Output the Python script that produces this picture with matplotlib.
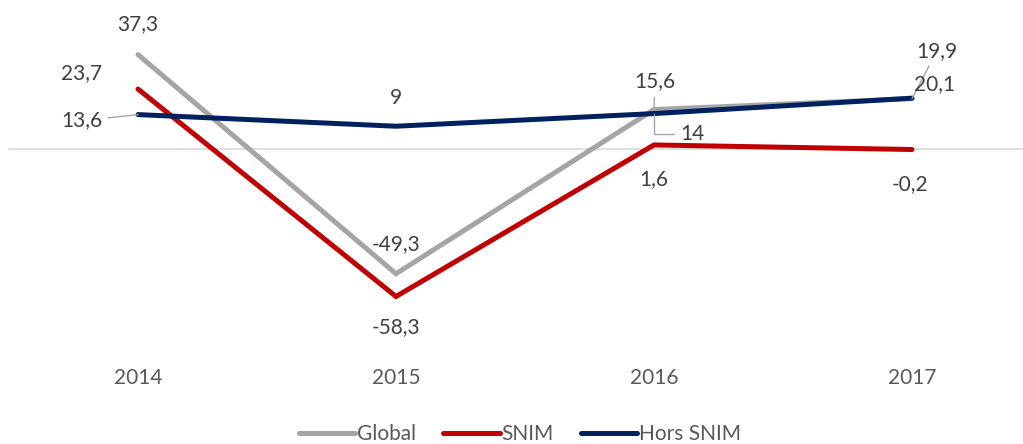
import matplotlib
matplotlib.use("Agg")
import matplotlib.pyplot as plt

years = ["2014", "2015", "2016", "2017"]
global_vals = [37.3, -49.3, 15.6, 19.9]
snim_vals = [23.7, -58.3, 1.6, -0.2]
hors_vals = [13.6, 9, 14, 20.1]

plt.rcParams['font.family'] = ['Lato', 'DejaVu Sans']

fig = plt.figure(figsize=(10.23, 4.44), dpi=100)
ax = fig.add_axes([0, 84 / 444, 1, 360 / 444])
ax.set_xlim(-138 / 258, 885 / 258)
ax.set_ylim((149 - 360) / 2.53, 149 / 2.53)
for s in ax.spines.values():
    s.set_visible(False)
ax.set_yticks([])
x = list(range(len(years)))
ax.set_xticks(x, years)
ax.tick_params(axis='x', length=0, pad=6, labelsize=15, labelcolor='#595959')

ax.plot([-0.5, 3.5], [0, 0], color='#D9D9D9', lw=1.2, zorder=1)

series = [("Global", global_vals, '#A5A5A5'),
          ("SNIM", snim_vals, '#C00000'),
          ("Hors SNIM", hors_vals, '#002060')]
for name, vals, col in series:
    ax.plot(x, vals, color=col, lw=3.6, label=name, solid_capstyle='round',
            solid_joinstyle='miter', zorder=2)

def fmt(v):
    return ("%g" % v).replace('.', ',')

# offsets in pixels (dx, dy), leader line flag
offsets = {
    "Global": [(0, 31, None), (0, 30, None), (1, 28, 'line'), (25, 48, 'line')],
    "SNIM": [(-56, 16, None), (0, -31, None), (0, -34, None), (-2, -35, None)],
    "Hors SNIM": [(-56, -6, 'line'), (0, 28, None), (38, -20, 'elbow'), (23, 14, None)],
}
for name, vals, col in series:
    for i, v in enumerate(vals):
        dx, dy, lead = offsets[name][i]
        kw = {}
        if lead == 'line':
            kw['arrowprops'] = dict(arrowstyle='-', color='#A6A6A6', lw=1,
                                    shrinkA=2, shrinkB=0)
        elif lead == 'elbow':
            kw['arrowprops'] = dict(arrowstyle='-', color='#A6A6A6', lw=1,
                                    shrinkA=2, shrinkB=0,
                                    connectionstyle='angle,angleA=0,angleB=90,rad=0')
        ax.annotate(fmt(v), (i, v), xytext=(dx, dy), textcoords='offset pixels',
                    ha='center', va='center', fontsize=15, color='#404040',
                    zorder=3, **kw)

leg = fig.legend(loc='center', bbox_to_anchor=(520 / 1023, 10 / 444), ncol=3,
                 frameon=False, fontsize=15, handlelength=2.7, handletextpad=0.1,
                 columnspacing=1.3)
for t in leg.get_texts():
    t.set_color('#595959')

fig.savefig("out.png", dpi=100)
